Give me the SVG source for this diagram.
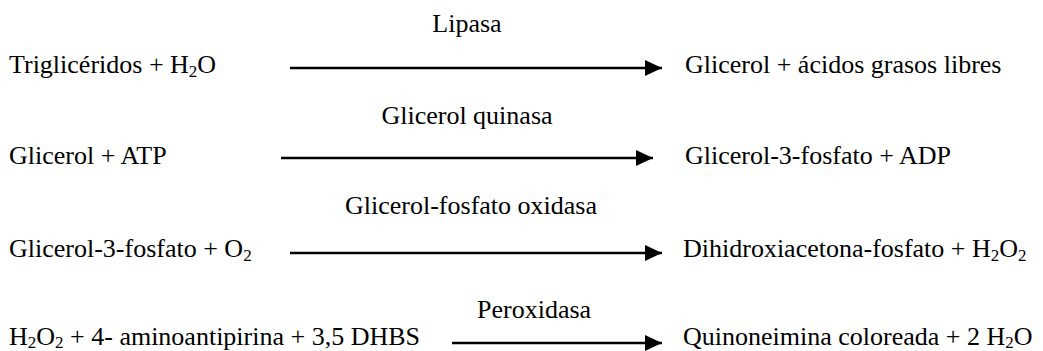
<svg xmlns="http://www.w3.org/2000/svg" width="1043" height="351" viewBox="0 0 1043 351">
<style>
text{font-family:"Liberation Serif",Tinos,"Times New Roman","DejaVu Serif",serif;font-size:26px;fill:#000}
.sub{font-size:17px}
.arr{stroke:#000;stroke-width:2.4;fill:none}
</style>
<defs>
<marker id="ah" markerUnits="userSpaceOnUse" markerWidth="18" markerHeight="16" refX="17" refY="8" orient="auto">
<path d="M0,0 L17,8 L0,16 Z" fill="#000"/>
</marker>
</defs>
<rect width="1043" height="351" fill="#fff"/>
<g id="connectors">
<line class="arr" x1="290" y1="68" x2="662" y2="68" marker-end="url(#ah)"/>
<line class="arr" x1="281" y1="158" x2="653" y2="158" marker-end="url(#ah)"/>
<line class="arr" x1="290" y1="253" x2="662" y2="253" marker-end="url(#ah)"/>
<line class="arr" x1="452" y1="343" x2="662" y2="343" marker-end="url(#ah)"/>
</g>
<g id="labels" font-family="Liberation Serif, serif">
<text x="467" y="32" text-anchor="middle">Lipasa</text>
<text x="467" y="124" text-anchor="middle">Glicerol quinasa</text>
<text x="471" y="214" text-anchor="middle">Glicerol-fosfato oxidasa</text>
<text x="477" y="318">Peroxidasa</text>
</g>
<g id="r1-left"><text x="9" y="73">Triglicéridos + H<tspan class="sub" dy="4">2</tspan><tspan dy="-4">O</tspan></text></g>
<g id="r1-right"><text x="685" y="73">Glicerol + ácidos grasos libres</text></g>
<g id="r2-left"><text x="9" y="164">Glicerol + ATP</text></g>
<g id="r2-right"><text x="685" y="164">Glicerol-3-fosfato + ADP</text></g>
<g id="r3-left"><text x="9" y="257">Glicerol-3-fosfato + O<tspan class="sub" dy="4">2</tspan></text></g>
<g id="r3-right"><text x="683" y="257">Dihidroxiacetona-fosfato + H<tspan class="sub" dy="4">2</tspan><tspan dy="-4">O</tspan><tspan class="sub" dy="4">2</tspan></text></g>
<g id="r4-left"><text x="9" y="345">H<tspan class="sub" dy="3">2</tspan><tspan dy="-3">O</tspan><tspan class="sub" dy="3">2</tspan><tspan dy="-3"> + 4- aminoantipirina + 3,5 DHBS</tspan></text></g>
<g id="r4-right"><text x="683" y="345">Quinoneimina coloreada + 2 H<tspan class="sub" dy="3">2</tspan><tspan dy="-3">O</tspan></text></g>
</svg>
